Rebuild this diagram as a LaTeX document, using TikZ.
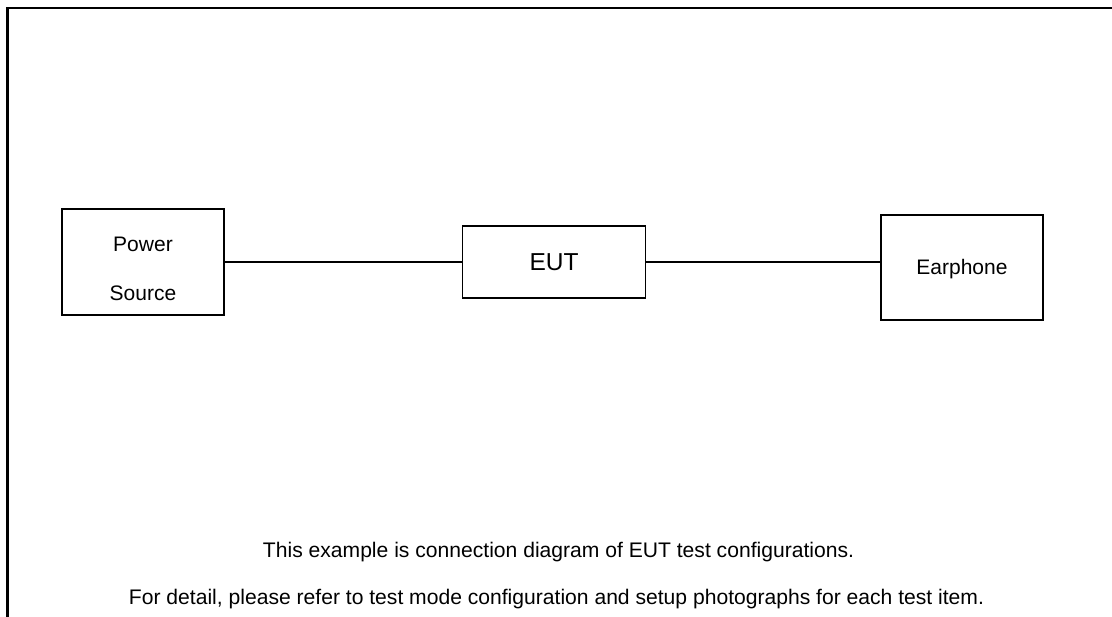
\documentclass[tikz,border=0pt]{standalone}
\usepackage{fontspec}
\setmainfont{Liberation Sans}
\begin{document}
\begin{tikzpicture}[x=1pt,y=-1pt,
  unitbox/.style={draw, line width=1.2pt, inner sep=0pt, align=center,
    font=\fontsize{21}{49}\selectfont},
  boxtext/.style={inner sep=0pt, align=center, font=\fontsize{21}{49}\selectfont},
  cable/.style={line width=1.5pt},
  note/.style={anchor=base, inner sep=0pt, font=\fontsize{21.1}{25}\selectfont}]
\useasboundingbox (0,0) rectangle (1112,617);
\draw[line width=2.8pt] (7.5,617) -- (7.5,8) -- (1112,8);
\node[unitbox, minimum width=162pt, minimum height=106pt] (ps) at (143,262) {};
\node[boxtext] (pslabel) at ([yshift=-7pt]ps.center) {Power\\Source};
\node[unitbox, minimum width=183pt, minimum height=72pt, font=\fontsize{24.5}{28}\selectfont] (eut) at (554,262) {EUT};
\node[unitbox, minimum width=162pt, minimum height=105pt] (ear) at (962,267.5) {};
\node[boxtext] (earlabel) at ([yshift=-1.5pt]ear.center) {Earphone};
\draw[cable] (ps.east) -- (eut.west);
\draw[cable] (eut.east) -- (eut.east -| ear.west);
\node[note] (n1) at (558.5,558) {This example is connection diagram of EUT test configurations.};
\node[note] (n2) at (556.5,604) {For detail, please refer to test mode configuration and setup photographs for each test item.};
\end{tikzpicture}
\end{document}
